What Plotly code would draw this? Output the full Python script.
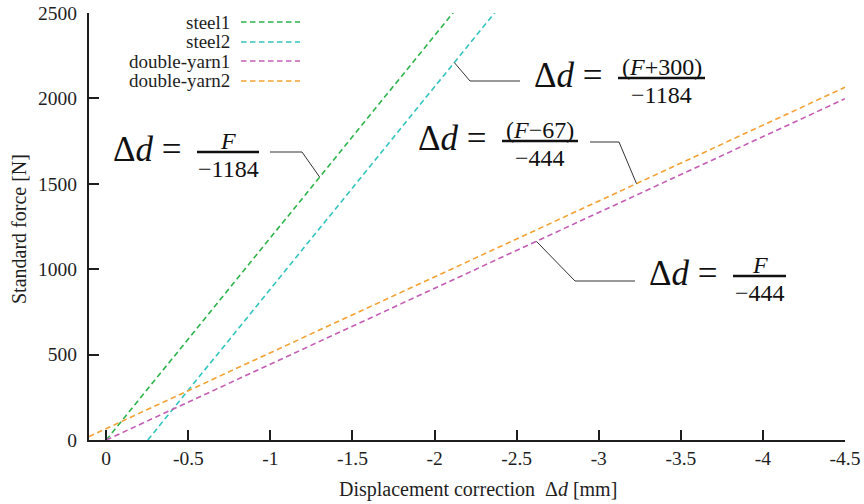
import plotly.graph_objects as go

# ---- data -------------------------------------------------------------
series = ["steel1", "steel2", "double-yarn1", "double-yarn2"]
colors = ["#2db34a", "#33c4bf", "#c45db5", "#f4a234"]
# Correction lines F = slope * Δd + offset, i.e. Δd = (F - offset) / slope
slopes = [-1184, -1184, -444, -444]
offsets = [0, -300, 0, 67]
# Δd interval over which each line is drawn
x_start = [0.0, -300 / 1184, 0.0, 0.105]
x_end = [-2.2, -2.45, -4.5, -4.5]

x_ticks = [0, -0.5, -1, -1.5, -2, -2.5, -3, -3.5, -4, -4.5]
x_tick_text = ["0", "-0.5", "-1", "-1.5", "-2", "-2.5", "-3", "-3.5", "-4", "-4.5"]
y_ticks = [0, 500, 1000, 1500, 2000, 2500]
y_tick_text = ["0", "500", "1000", "1500", "2000", "2500"]

# Formula labels: (numerator, denominator)
formulas = [("<i>F</i>", "\u22121184"),
            ("(<i>F</i>+300)", "\u22121184"),
            ("<i>F</i>", "\u2212444"),
            ("(<i>F</i>\u221267)", "\u2212444")]

# ---- geometry ----------------------------------------------------------
W, H = 864, 504
L, R, T, B = 89, 19, 13, 64
X_RANGE = [0.105, -4.5]
Y_RANGE = [0, 2500]
px_left, px_right = L, W - R
py_top, py_bot = T, H - B


def px2x(px):
    return X_RANGE[0] + (px - px_left) * (X_RANGE[1] - X_RANGE[0]) / (px_right - px_left)


def py2y(py):
    return Y_RANGE[0] + (py_bot - py) * (Y_RANGE[1] - Y_RANGE[0]) / (py_bot - py_top)


def px2paper(px):
    return (px - px_left) / (px_right - px_left)


def py2paper(py):
    return (py_bot - py) / (py_bot - py_top)


def force(i, d):
    return slopes[i] * d + offsets[i]


FONT = "Liberation Serif, Times New Roman, serif"
INK = "#1e1e1e"

fig = go.Figure()
for i, name in enumerate(series):
    xs = [x_start[i], x_end[i]]
    ys = [force(i, x) for x in xs]
    fig.add_trace(go.Scatter(
        x=xs, y=ys, mode="lines", name=name,
        line=dict(color=colors[i], width=1.6, dash="5.5px,3.5px"),
        showlegend=False, hoverinfo="skip"))

shapes = []
annotations = []

# legend: right-aligned labels with the dashed samples to their right
legend_rows = [22, 42, 61, 81]
for i, name in enumerate(series):
    annotations.append(dict(
        xref="paper", yref="paper", x=px2paper(232), y=py2paper(legend_rows[i]),
        xanchor="right", yanchor="middle", text=name, showarrow=False,
        font=dict(family=FONT, size=19, color=INK)))
    shapes.append(dict(
        type="line", xref="paper", yref="paper",
        x0=px2paper(241), x1=px2paper(300),
        y0=py2paper(legend_rows[i]), y1=py2paper(legend_rows[i]),
        line=dict(color=colors[i], width=1.6, dash="5.5px,3.5px")))

# formula blocks: centre x of "Δd =", fraction bar (x0, x1, y)
blocks = [
    dict(eq=147, bar=(197, 259, 152)),
    dict(eq=568, bar=(618, 705, 78)),
    dict(eq=683, bar=(733, 786, 276)),
    dict(eq=452, bar=(502, 578, 141)),
]
for (num, den), b in zip(formulas, blocks):
    bx0, bx1, by = b["bar"]
    cx = (bx0 + bx1) / 2
    annotations.append(dict(
        xref="paper", yref="paper", x=px2paper(b["eq"]), y=py2paper(by - 3),
        xanchor="center", yanchor="middle", text="\u0394<i>d</i> =", showarrow=False,
        font=dict(family=FONT, size=35, color="#111111")))
    annotations.append(dict(
        xref="paper", yref="paper", x=px2paper(cx), y=py2paper(by - 11),
        xanchor="center", yanchor="middle", text=num, showarrow=False,
        font=dict(family=FONT, size=24, color="#111111")))
    annotations.append(dict(
        xref="paper", yref="paper", x=px2paper(cx), y=py2paper(by + 17),
        xanchor="center", yanchor="middle", text=den, showarrow=False,
        font=dict(family=FONT, size=24, color="#111111")))
    shapes.append(dict(
        type="line", xref="paper", yref="paper",
        x0=px2paper(bx0), x1=px2paper(bx1), y0=py2paper(by), y1=py2paper(by),
        line=dict(color="#111111", width=2.5)))

# leader lines: two elbow points (pixels) and the Δd where they meet the series line
leaders = [
    (0, [(270, 152), (302, 152)], -1.30),
    (1, [(520, 81), (470, 81)], -2.12),
    (2, [(635, 281), (575, 281)], -2.62),
    (3, [(590, 142), (619, 142)], -3.23),
]
for i, pts, d in leaders:
    path = "M {} {}".format(px2x(pts[0][0]), py2y(pts[0][1]))
    path += " L {} {}".format(px2x(pts[1][0]), py2y(pts[1][1]))
    path += " L {} {}".format(d, force(i, d))
    shapes.append(dict(type="path", xref="x", yref="y", path=path,
                       line=dict(color="#333333", width=1)))

# axis titles
annotations.append(dict(
    xref="paper", yref="paper", x=px2paper(19), y=py2paper(229),
    xanchor="center", yanchor="middle", textangle=-90,
    text="Standard force [N]", showarrow=False,
    font=dict(family=FONT, size=20, color=INK)))
annotations.append(dict(
    xref="paper", yref="paper", x=px2paper(478), y=py2paper(490),
    xanchor="center", yanchor="middle",
    text="Displacement correction  \u0394<i>d</i> [mm]", showarrow=False,
    font=dict(family=FONT, size=20, color=INK)))

axis_common = dict(
    showline=True, linewidth=2, linecolor=INK, mirror=False,
    ticks="inside", ticklen=10, tickwidth=2, tickcolor=INK,
    showgrid=False, zeroline=False, automargin=False,
    tickfont=dict(family=FONT, size=19.5, color=INK),
)

fig.update_layout(
    width=W, height=H,
    margin=dict(l=L, r=R, t=T, b=B, autoexpand=False),
    paper_bgcolor="white", plot_bgcolor="white",
    xaxis=dict(range=X_RANGE, tickmode="array", tickvals=x_ticks,
               ticktext=x_tick_text, **axis_common),
    yaxis=dict(range=Y_RANGE, tickmode="array", tickvals=y_ticks,
               ticktext=y_tick_text, ticklabelstandoff=6, **axis_common),
    shapes=shapes,
    annotations=annotations,
    showlegend=False,
)

fig.write_html("out.html")
